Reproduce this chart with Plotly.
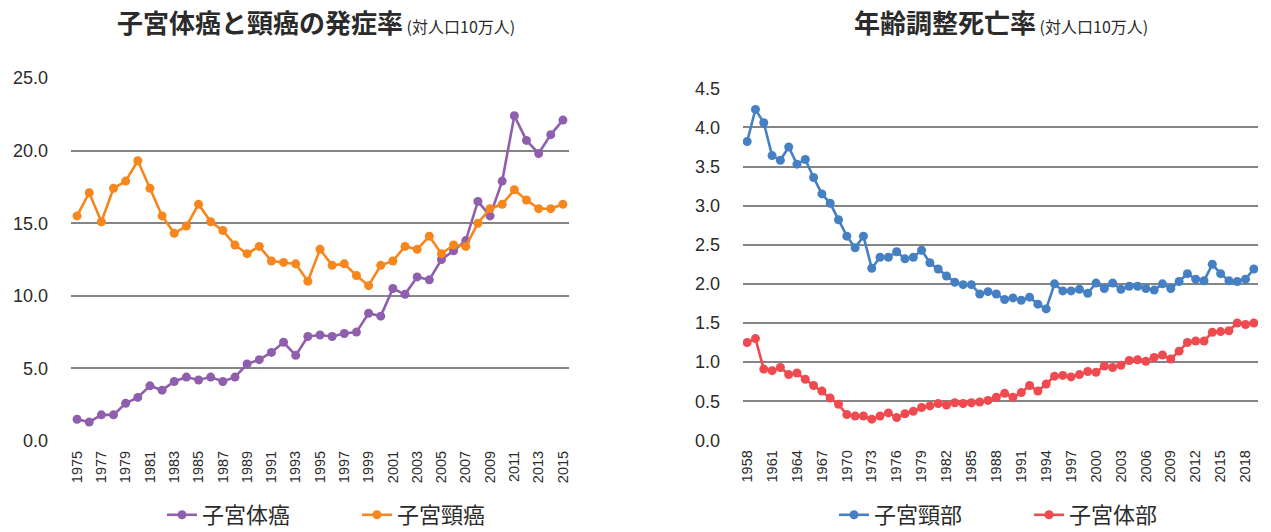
import plotly.graph_objects as go

# ---------- Left chart data ----------
years_inc = list(range(1975, 2016))
corpus_inc = [1.5, 1.3, 1.8, 1.8, 2.6, 3.0, 3.8, 3.5, 4.1, 4.4, 4.2, 4.4, 4.1, 4.4,
              5.3, 5.6, 6.1, 6.8, 5.9, 7.2, 7.3, 7.2, 7.4, 7.5, 8.8, 8.6, 10.5, 10.1,
              11.3, 11.1, 12.5, 13.1, 13.8, 16.5, 15.5, 17.9, 22.4, 20.7, 19.8, 21.1, 22.1]
cervix_inc = [15.5, 17.1, 15.1, 17.4, 17.9, 19.3, 17.4, 15.5, 14.3, 14.8, 16.3, 15.1,
              14.5, 13.5, 12.9, 13.4, 12.4, 12.3, 12.2, 11.0, 13.2, 12.1, 12.2, 11.4,
              10.7, 12.1, 12.4, 13.4, 13.2, 14.1, 12.9, 13.5, 13.4, 15.0, 16.0, 16.3,
              17.3, 16.6, 16.0, 16.0, 16.3]
inc_xticks = list(range(1975, 2016, 2))
inc_yticks = [0, 5, 10, 15, 20, 25]

# ---------- Right chart data ----------
years_mort = list(range(1958, 2020))
cervix_mort = [3.82, 4.23, 4.06, 3.64, 3.58, 3.75, 3.53, 3.59, 3.36, 3.15, 3.03, 2.82,
               2.61, 2.46, 2.61, 2.20, 2.34, 2.34, 2.41, 2.32, 2.34, 2.43, 2.27, 2.19,
               2.10, 2.02, 1.99, 1.99, 1.87, 1.90, 1.87, 1.80, 1.82, 1.79, 1.83, 1.74,
               1.68, 2.00, 1.91, 1.91, 1.93, 1.88, 2.01, 1.94, 2.01, 1.93, 1.97, 1.97,
               1.94, 1.92, 2.00, 1.94, 2.03, 2.13, 2.06, 2.04, 2.25, 2.13, 2.04, 2.03,
               2.06, 2.19]
corpus_mort = [1.25, 1.30, 0.91, 0.89, 0.93, 0.84, 0.86, 0.78, 0.70, 0.63, 0.54, 0.46,
               0.33, 0.31, 0.31, 0.27, 0.31, 0.35, 0.29, 0.34, 0.37, 0.42, 0.44, 0.47,
               0.45, 0.48, 0.47, 0.48, 0.49, 0.51, 0.55, 0.60, 0.55, 0.61, 0.70, 0.63,
               0.72, 0.82, 0.83, 0.81, 0.84, 0.88, 0.87, 0.95, 0.93, 0.96, 1.02, 1.03,
               1.01, 1.06, 1.09, 1.04, 1.14, 1.25, 1.27, 1.27, 1.38, 1.39, 1.40, 1.50,
               1.48, 1.50]
mort_xticks = list(range(1958, 2019, 3))
mort_yticks = [0, 0.5, 1.0, 1.5, 2.0, 2.5, 3.0, 3.5, 4.0, 4.5]

PURPLE = "#8f5fad"
ORANGE = "#f7861c"
BLUE = "#4680c4"
RED = "#ef4a50"

CJK = "Noto Sans CJK JP"
NUM = "Liberation Sans, Arial, sans-serif"
TXT = "#2b2b2b"
W, H = 1271, 532

fig = go.Figure()

def add(x, y, name, color, xa, ya, legend):
    fig.add_trace(go.Scatter(
        x=x, y=y, name=name, mode="lines+markers",
        line=dict(color=color, width=2.6),
        marker=dict(color=color, size=9),
        xaxis=xa, yaxis=ya, legend=legend))

add(years_inc, corpus_inc, "子宮体癌", PURPLE, "x", "y", "legend")
add(years_inc, cervix_inc, "子宮頸癌", ORANGE, "x", "y", "legend")
add(years_mort, cervix_mort, "子宮頸部", BLUE, "x2", "y2", "legend2")
add(years_mort, corpus_mort, "子宮体部", RED, "x2", "y2", "legend2")

grid = dict(showgrid=True, gridcolor="#858585", gridwidth=1.5, zeroline=False,
            showline=False, ticks="")

def px_x(a, b):
    return [a / W, b / W]

def px_y(top, bottom):
    return [1 - bottom / H, 1 - top / H]

xtick_font = dict(family=NUM, size=14.5, color=TXT)
ytick_font = dict(family=NUM, size=18, color=TXT)

fig.update_layout(
    width=W, height=H,
    margin=dict(l=0, r=0, t=0, b=0, autoexpand=False),
    paper_bgcolor="white", plot_bgcolor="white",
    xaxis=dict(domain=px_x(71, 569), anchor="y", range=[1974.5, 2015.5],
               tickvals=inc_xticks, ticktext=[str(v) for v in inc_xticks],
               tickangle=-90, showgrid=False, zeroline=False, ticks="",
               tickfont=xtick_font, ticklabelstandoff=6, automargin=False),
    yaxis=dict(domain=px_y(78, 441), anchor="x", range=[0, 25],
               tickvals=inc_yticks, tickformat=".1f", tickfont=ytick_font,
               ticklabelstandoff=22, automargin=False, **grid),
    xaxis2=dict(domain=px_x(743, 1258), anchor="y2", range=[1957.5, 2019.5],
                tickvals=mort_xticks, ticktext=[str(v) for v in mort_xticks],
                tickangle=-90, showgrid=False, zeroline=False, ticks="",
                tickfont=xtick_font, ticklabelstandoff=6, automargin=False),
    yaxis2=dict(domain=px_y(88.3, 440.3), anchor="x2", range=[0, 4.5],
                tickvals=mort_yticks, tickformat=".1f", tickfont=ytick_font,
                ticklabelstandoff=22, automargin=False, **grid),
    legend=dict(orientation="h", x=357 / W, xanchor="center", y=1 - 515 / H,
                yanchor="middle", font=dict(family=CJK, size=22, color=TXT),
                entrywidth=150, bgcolor="rgba(0,0,0,0)"),
    legend2=dict(orientation="h", x=1029 / W, xanchor="center", y=1 - 515 / H,
                 yanchor="middle", font=dict(family=CJK, size=22, color=TXT),
                 entrywidth=150, bgcolor="rgba(0,0,0,0)"),
    showlegend=True,
)

fig.add_annotation(
    x=316 / W, y=1 - 22 / H, xref="paper", yref="paper", showarrow=False,
    xanchor="center", yanchor="middle",
    text="<b>子宮体癌と頸癌の発症率</b><span style='font-size:16px'> (対人口10万人)</span>",
    font=dict(family=CJK, size=26, color=TXT))
fig.add_annotation(
    x=1001 / W, y=1 - 22 / H, xref="paper", yref="paper", showarrow=False,
    xanchor="center", yanchor="middle",
    text="<b>年齢調整死亡率</b><span style='font-size:16px'> (対人口10万人)</span>",
    font=dict(family=CJK, size=26, color=TXT))

fig.write_html(
    "out.html",
    config={"displayModeBar": False},
    post_script="document.body.style.margin='0';document.body.style.overflow='hidden';")
